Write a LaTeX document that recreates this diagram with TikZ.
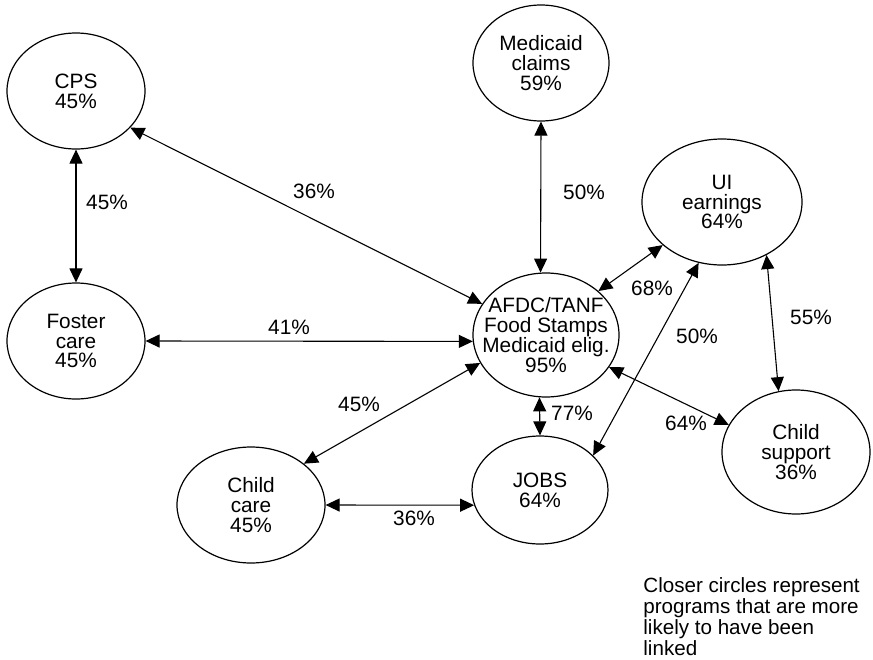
\documentclass[tikz,border=0pt]{standalone}
\usepackage{fontspec}
\setmainfont{Liberation Sans}
\usetikzlibrary{arrows.meta,shapes.geometric}
\begin{document}
\begin{tikzpicture}[x=0.5pt,y=-0.5pt,
  ell/.style={draw, ellipse, inner sep=0pt, line width=0.6pt},
  txt/.style={align=center, font=\fontsize{10.4pt}{9.9pt}\selectfont, inner sep=0pt},
  pct/.style={font=\fontsize{10.4pt}{12pt}\selectfont, inner sep=0pt},
  link/.style={{Triangle[length=7pt,width=6.5pt]}-{Triangle[length=7pt,width=6.5pt]}, line width=0.55pt}]
\useasboundingbox (0,0) rectangle (873,659);

% programs
\node[ell, minimum width=69pt, minimum height=58pt, label={[txt]center:{CPS\\45\%}}] (cps) at (76,91) {};
\node[ell, minimum width=68pt, minimum height=58pt, label={[txt]center:{Medicaid\\claims\\59\%}}] (med) at (541,63) {};
\node[ell, minimum width=80pt, minimum height=63pt, label={[txt]center:{UI\\earnings\\64\%}}] (ui) at (722,202) {};
\node[ell, minimum width=69pt, minimum height=58pt, label={[txt]center:{Foster\\care\\45\%}}] (fos) at (76,341) {};
\node[ell, minimum width=73pt, minimum height=62pt, label={[txt]center:{AFDC/TANF\\Food Stamps\\Medicaid elig.\\95\%}}] (ctr) at (546,335) {};
\node[ell, minimum width=74pt, minimum height=58pt, label={[txt]center:{Child\\care\\45\%}}] (cc) at (251,505) {};
\node[ell, minimum width=68pt, minimum height=54pt, label={[txt]center:{JOBS\\64\%}}] (jobs) at (540,490) {};
\node[ell, minimum width=74pt, minimum height=62pt, label={[txt]center:{Child\\support\\36\%}}] (cs) at (796,452) {};

% links
\draw[link] (cps.-90) -- (fos.90);
\draw[link] (cps.-34.4) -- (ctr.154.9);
\draw[link] (fos.0) -- (ctr.185);
\draw[link] (cc.38.5) -- (ctr.203);
\draw[link] (cc.0) -- (jobs.193);
\draw[link] (med.-90) -- (ctr.95.5);
\draw[link] (ctr.264.5) -- (jobs.90);
\draw[link] (ctr.40) -- (ui.216.7);
\draw[link] (jobs.33) -- (ui.249.7);
\draw[link] (ui.310.5) -- (cs.106);
\draw[link] (ctr.333.8) -- (cs.158.9);

% link percentages
\node[pct] (p1) at (107,202) {45\%};
\node[pct] (p2) at (314,191) {36\%};
\node[pct] (p3) at (289,327) {41\%};
\node[pct] (p4) at (584,192) {50\%};
\node[pct] (p5) at (652,288) {68\%};
\node[pct] (p6) at (697,336) {50\%};
\node[pct] (p7) at (811,317) {55\%};
\node[pct] (p8) at (572,413) {77\%};
\node[pct] (p9) at (686,423) {64\%};
\node[pct] (p10) at (359,404) {45\%};
\node[pct] (p11) at (414,518) {36\%};

% note
\node[inner sep=0pt, align=left, anchor=north west, font=\fontsize{10.3pt}{9pt}\selectfont] (note) at (643,577) {Closer circles represent\\programs that are more\\likely to have been\\linked};
\end{tikzpicture}
\end{document}
